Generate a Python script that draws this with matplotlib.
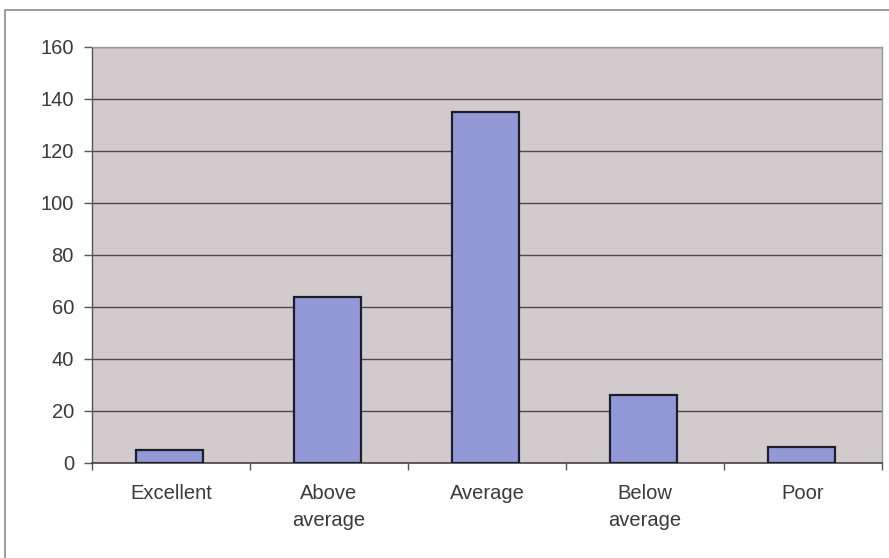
import matplotlib
matplotlib.use("Agg")
import matplotlib.pyplot as plt
from matplotlib.patches import Rectangle
import numpy as np

categories = ["Excellent", "Above\naverage", "Average", "Below\naverage", "Poor"]
counts = [5, 64, 135, 26, 6]
y_ticks = [0, 20, 40, 60, 80, 100, 120, 140, 160]

plt.rcParams["font.family"] = ["Liberation Sans", "DejaVu Sans"]

fig = plt.figure(figsize=(8.89, 5.58), dpi=100)
fig.patch.set_facecolor("white")

# outer chart frame
fig.patches.append(Rectangle((5 / 889, -0.01), 1.0, 0.996 - 8 / 558 + 0.01,
                             transform=fig.transFigure, fill=False,
                             edgecolor="#8a8a8a", linewidth=1.2))

ax = fig.add_axes([92 / 889, 95 / 558, 790 / 889, 416 / 558])
ax.set_facecolor("#d2cbce")

x = np.arange(len(categories))
ax.bar(x - 0.01, counts, width=0.42, color="#9299d6", edgecolor="#1e1e2a",
       linewidth=1.6, zorder=3)

ax.set_ylim(0, 160)
ax.set_xlim(-0.5, len(categories) - 0.5)
ax.set_yticks(y_ticks)
ax.yaxis.grid(True, color="#4a4a4a", linewidth=1.0, zorder=1)
ax.set_axisbelow(True)

ax.set_xticks(x)
ax.set_xticklabels(categories, linespacing=1.55)
ax.set_xticks(np.arange(-0.5, len(categories), 1.0), minor=True)
ax.tick_params(axis="x", which="major", length=0, pad=15, labelsize=14.5,
               labelcolor="#3a3a3a")
ax.tick_params(axis="x", which="minor", length=5, color="#555555", width=1)
ax.tick_params(axis="y", length=6, color="#555555", width=1, pad=7,
               labelsize=14.5, labelcolor="#3a3a3a")
for lbl in ax.get_xticklabels():
    lbl.set_verticalalignment("top")

for side in ("top", "right"):
    ax.spines[side].set_color("#9a9a9a")
    ax.spines[side].set_linewidth(1.0)
ax.spines["left"].set_color("#555555")
ax.spines["bottom"].set_color("#444444")
ax.spines["left"].set_linewidth(1.0)
ax.spines["bottom"].set_linewidth(1.2)

fig.savefig("out.png", dpi=100, facecolor="white")
